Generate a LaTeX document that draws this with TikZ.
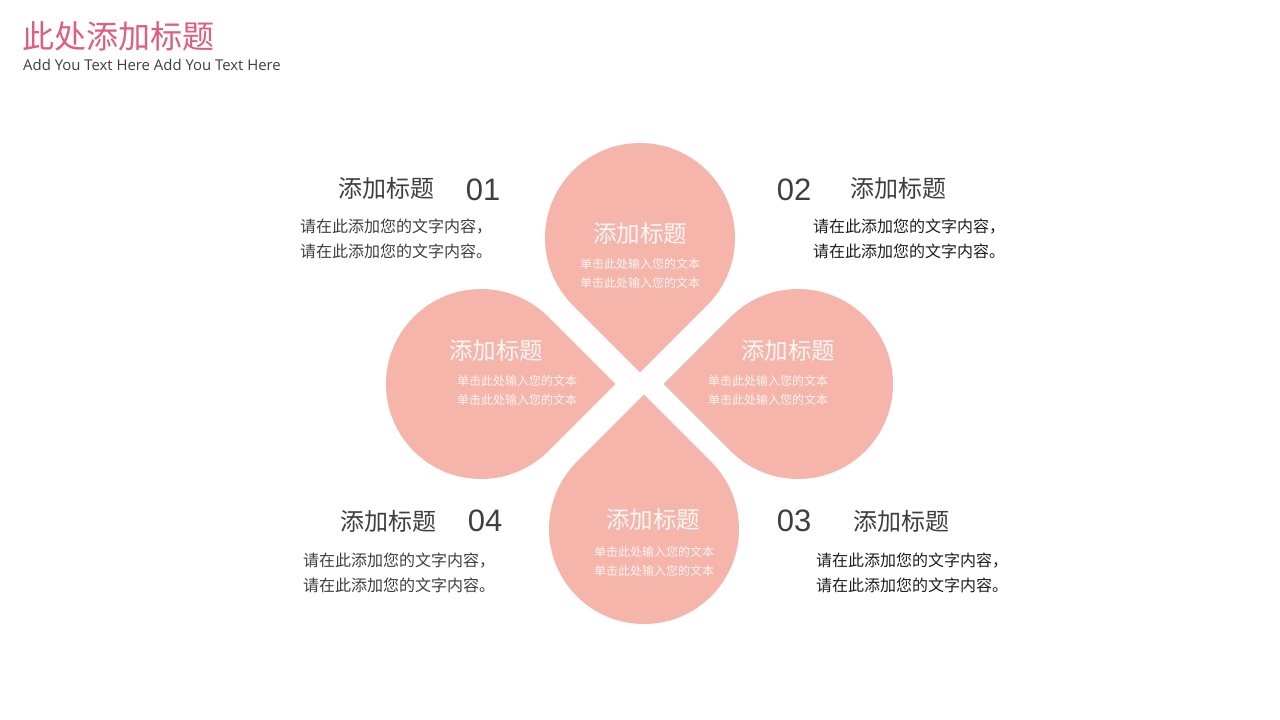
\documentclass[tikz,border=0pt]{standalone}
\usepackage{fontspec}
\setmainfont{Open Sans}
\newfontfamily\cjk{Noto Sans CJK SC}
\newfontfamily\num{Liberation Sans}
\usetikzlibrary{calc}
\definecolor{titlepink}{HTML}{DE5E7E}
\definecolor{dropc}{HTML}{F6B5AA}
\definecolor{txtgray}{HTML}{3F3F3F}
\definecolor{txtdark}{HTML}{1E1E1E}
\tikzset{
  dropfill/.style={fill=dropc},
  droptitle/.style={text=white, opacity=0.9, font=\cjk\fontsize{23.5}{26}\selectfont, inner sep=0pt},
  dropbody/.style={text=white, opacity=0.85, font=\cjk\fontsize{12}{19}\selectfont, align=center, inner sep=0pt},
  headtxt/.style={text=txtgray, font=\cjk\fontsize{24}{26}\selectfont, inner sep=0pt},
  numtxt/.style={text=txtgray, font=\num\fontsize{31}{34}\selectfont, inner sep=0pt},
  bodytxt/.style={font=\cjk\fontsize{16}{25}\selectfont, align=left, inner sep=0pt, anchor=west},
}
\newcommand\dropshape[3]{%
  \fill[dropfill] ($(#1,#2)+(#3:134.35)$) -- ($(#1,#2)+(#3-45:95)$)
    arc[start angle=#3-45, end angle=#3-315, radius=95] -- cycle;}
\begin{document}
\begin{tikzpicture}[x=1pt,y=-1pt]
\useasboundingbox[fill=white] (0,0) rectangle (1280,720);
% title
\node[anchor=west, inner sep=0pt, text=titlepink, font=\cjk\fontsize{32}{34}\selectfont] (title) at (22,36) {此处添加标题};
\node[anchor=west, inner sep=0pt, text=txtgray, font=\fontsize{14.9}{16}\selectfont] (subtitle) at (23,65) {Add You Text Here Add You Text Here};
% drops
\dropshape{640}{238}{90}
\dropshape{481}{384}{0}
\dropshape{798}{384}{180}
\dropshape{644}{529}{270}
% drop texts
\node[droptitle] (t1) at (640,234) {添加标题};
\node[dropbody] (b1) at (640,273) {单击此处输入您的文本\\单击此处输入您的文本};
\node[droptitle] (t4) at (496,351) {添加标题};
\node[dropbody] (b4) at (517,390) {单击此处输入您的文本\\单击此处输入您的文本};
\node[droptitle] (t2) at (788,351) {添加标题};
\node[dropbody] (b2) at (768,390) {单击此处输入您的文本\\单击此处输入您的文本};
\node[droptitle] (t3) at (653,520) {添加标题};
\node[dropbody] (b3) at (654,561) {单击此处输入您的文本\\单击此处输入您的文本};
% 01
\node[headtxt] (h1) at (386,188) {添加标题};
\node[numtxt] (n1) at (483,190) {01};
\node[bodytxt, text=txtgray] (p1) at (300,239) {请在此添加您的文字内容，\\请在此添加您的文字内容。};
% 02
\node[numtxt] (n2) at (794,190) {02};
\node[headtxt] (h2) at (898,188) {添加标题};
\node[bodytxt, text=txtdark] (p2) at (813,239) {请在此添加您的文字内容，\\请在此添加您的文字内容。};
% 04
\node[headtxt] (h4) at (388,521) {添加标题};
\node[numtxt] (n4) at (485,521) {04};
\node[bodytxt, text=txtgray] (p4) at (303,573) {请在此添加您的文字内容，\\请在此添加您的文字内容。};
% 03
\node[numtxt] (n3) at (794,521) {03};
\node[headtxt] (h3) at (901,521) {添加标题};
\node[bodytxt, text=txtdark] (p3) at (816,573) {请在此添加您的文字内容，\\请在此添加您的文字内容。};
\end{tikzpicture}
\end{document}
